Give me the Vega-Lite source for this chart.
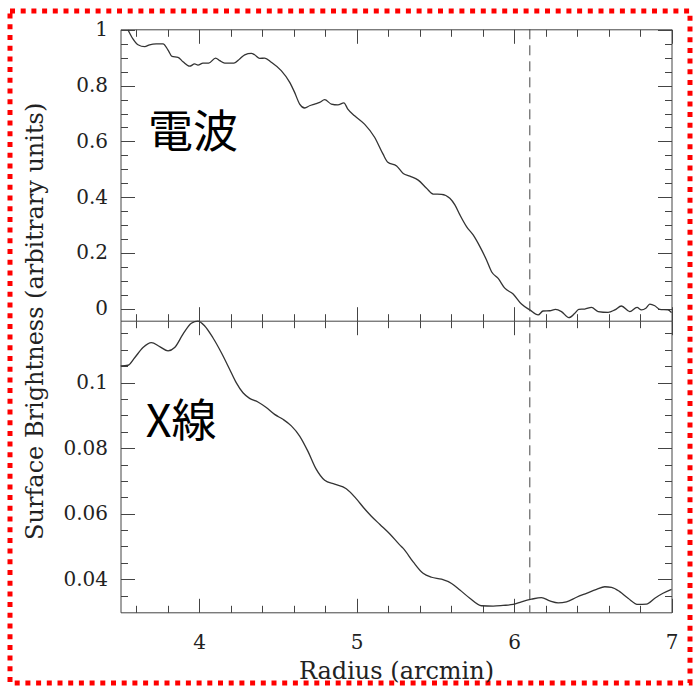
{
  "$schema": "https://vega.github.io/schema/vega-lite/v6.json",
  "width": 680,
  "height": 672,
  "autosize": {"type": "none"},
  "padding": {"left": 10, "top": 11, "right": 3, "bottom": 4},
  "background": "white",
  "view": {"stroke": "#ff0000", "strokeWidth": 5, "strokeDash": [5, 5.7], "fill": "white"},
  "config": {
    "axis": {
      "grid": false,
      "domainColor": "#444",
      "domainWidth": 1,
      "tickColor": "#444",
      "tickWidth": 1,
      "labelFont": "DejaVu Serif",
      "labelFontSize": 20,
      "labelColor": "#222",
      "labelOverlap": false,
      "labelFlush": false,
      "labelBound": false,
      "titleFont": "DejaVu Serif",
      "titleFontSize": 24,
      "titleFontWeight": "normal",
      "titleColor": "#222"
    }
  },
  "datasets": {
    "radio": [
      {"r": 3.548, "v": 1.0}, {"r": 3.579, "v": 0.968}, {"r": 3.611, "v": 0.947}, {"r": 3.654, "v": 0.940},
      {"r": 3.685, "v": 0.947}, {"r": 3.727, "v": 0.950}, {"r": 3.770, "v": 0.950}, {"r": 3.802, "v": 0.928},
      {"r": 3.827, "v": 0.905}, {"r": 3.865, "v": 0.902}, {"r": 3.897, "v": 0.886}, {"r": 3.939, "v": 0.870},
      {"r": 3.971, "v": 0.878}, {"r": 3.992, "v": 0.874}, {"r": 4.024, "v": 0.881}, {"r": 4.060, "v": 0.881},
      {"r": 4.104, "v": 0.899}, {"r": 4.130, "v": 0.890}, {"r": 4.162, "v": 0.881}, {"r": 4.221, "v": 0.881},
      {"r": 4.257, "v": 0.896}, {"r": 4.289, "v": 0.911}, {"r": 4.331, "v": 0.916}, {"r": 4.352, "v": 0.911},
      {"r": 4.384, "v": 0.898}, {"r": 4.416, "v": 0.899}, {"r": 4.458, "v": 0.884}, {"r": 4.521, "v": 0.854},
      {"r": 4.575, "v": 0.812}, {"r": 4.606, "v": 0.776}, {"r": 4.638, "v": 0.734}, {"r": 4.670, "v": 0.720},
      {"r": 4.701, "v": 0.728}, {"r": 4.733, "v": 0.734}, {"r": 4.765, "v": 0.740}, {"r": 4.797, "v": 0.750},
      {"r": 4.839, "v": 0.734}, {"r": 4.881, "v": 0.731}, {"r": 4.919, "v": 0.738}, {"r": 4.944, "v": 0.716},
      {"r": 4.987, "v": 0.692}, {"r": 5.050, "v": 0.662}, {"r": 5.114, "v": 0.615}, {"r": 5.167, "v": 0.555},
      {"r": 5.198, "v": 0.525}, {"r": 5.254, "v": 0.512}, {"r": 5.296, "v": 0.485}, {"r": 5.338, "v": 0.475},
      {"r": 5.391, "v": 0.461}, {"r": 5.444, "v": 0.432}, {"r": 5.486, "v": 0.411}, {"r": 5.539, "v": 0.410},
      {"r": 5.592, "v": 0.396}, {"r": 5.624, "v": 0.372}, {"r": 5.656, "v": 0.336}, {"r": 5.698, "v": 0.294},
      {"r": 5.740, "v": 0.264}, {"r": 5.783, "v": 0.222}, {"r": 5.825, "v": 0.174}, {"r": 5.857, "v": 0.132},
      {"r": 5.899, "v": 0.108}, {"r": 5.941, "v": 0.073}, {"r": 5.994, "v": 0.052}, {"r": 6.047, "v": 0.016},
      {"r": 6.100, "v": -0.005}, {"r": 6.153, "v": -0.023}, {"r": 6.184, "v": -0.009}, {"r": 6.227, "v": -0.008},
      {"r": 6.263, "v": -0.003}, {"r": 6.301, "v": -0.011}, {"r": 6.348, "v": -0.033}, {"r": 6.386, "v": -0.017},
      {"r": 6.411, "v": -0.003}, {"r": 6.449, "v": -0.002}, {"r": 6.492, "v": 0.004}, {"r": 6.534, "v": -0.011},
      {"r": 6.597, "v": -0.014}, {"r": 6.640, "v": -0.005}, {"r": 6.682, "v": 0.009}, {"r": 6.735, "v": -0.011},
      {"r": 6.781, "v": 0.004}, {"r": 6.809, "v": -0.005}, {"r": 6.837, "v": 0.001}, {"r": 6.862, "v": 0.016},
      {"r": 6.894, "v": 0.010}, {"r": 6.925, "v": -0.003}, {"r": 6.978, "v": -0.005}, {"r": 7.0, "v": -0.015}
    ],
    "xray": [
      {"r": 3.501, "v": 0.1051}, {"r": 3.548, "v": 0.1053}, {"r": 3.590, "v": 0.1076}, {"r": 3.643, "v": 0.1107},
      {"r": 3.696, "v": 0.1122}, {"r": 3.749, "v": 0.1110}, {"r": 3.802, "v": 0.1097}, {"r": 3.844, "v": 0.1107},
      {"r": 3.897, "v": 0.1148}, {"r": 3.950, "v": 0.1181}, {"r": 3.992, "v": 0.1188}, {"r": 4.035, "v": 0.1173},
      {"r": 4.087, "v": 0.1137}, {"r": 4.140, "v": 0.1092}, {"r": 4.193, "v": 0.1041}, {"r": 4.235, "v": 0.1000},
      {"r": 4.278, "v": 0.0969}, {"r": 4.320, "v": 0.0952}, {"r": 4.373, "v": 0.0941}, {"r": 4.426, "v": 0.0924},
      {"r": 4.479, "v": 0.0903}, {"r": 4.532, "v": 0.0888}, {"r": 4.585, "v": 0.0868}, {"r": 4.638, "v": 0.0837},
      {"r": 4.690, "v": 0.0791}, {"r": 4.743, "v": 0.0736}, {"r": 4.797, "v": 0.0702}, {"r": 4.860, "v": 0.0690},
      {"r": 4.934, "v": 0.0676}, {"r": 4.997, "v": 0.0646}, {"r": 5.050, "v": 0.0615}, {"r": 5.092, "v": 0.0593},
      {"r": 5.148, "v": 0.0567}, {"r": 5.211, "v": 0.0538}, {"r": 5.275, "v": 0.0504}, {"r": 5.296, "v": 0.0494},
      {"r": 5.359, "v": 0.0453}, {"r": 5.422, "v": 0.0418}, {"r": 5.476, "v": 0.0406}, {"r": 5.539, "v": 0.0400},
      {"r": 5.603, "v": 0.0387}, {"r": 5.656, "v": 0.0367}, {"r": 5.719, "v": 0.0342}, {"r": 5.793, "v": 0.0319},
      {"r": 5.867, "v": 0.0318}, {"r": 5.930, "v": 0.0320}, {"r": 5.994, "v": 0.0323}, {"r": 6.047, "v": 0.0331},
      {"r": 6.111, "v": 0.0339}, {"r": 6.174, "v": 0.0344}, {"r": 6.227, "v": 0.0334}, {"r": 6.280, "v": 0.0328},
      {"r": 6.333, "v": 0.0331}, {"r": 6.397, "v": 0.0345}, {"r": 6.460, "v": 0.0357}, {"r": 6.524, "v": 0.0369},
      {"r": 6.576, "v": 0.0377}, {"r": 6.619, "v": 0.0375}, {"r": 6.671, "v": 0.0362}, {"r": 6.724, "v": 0.0342},
      {"r": 6.788, "v": 0.0323}, {"r": 6.841, "v": 0.0324}, {"r": 6.894, "v": 0.0342}, {"r": 6.946, "v": 0.0357},
      {"r": 7.0, "v": 0.0369}
    ],
    "labels": [
      {"r": 3.675, "v": 0.628, "label": "電波", "panel": "radio"},
      {"r": 3.66, "v": 0.0876, "label": "X線", "panel": "xray"}
    ],
    "boundary": [{"r": 6.1, "lo": 0, "hi": 1}]
  },
  "resolve": {
    "scale": {"x": "independent", "y": "independent"},
    "axis": {"x": "independent", "y": "independent"}
  },
  "layer": [
    {
      "data": {"name": "radio"},
      "mark": {"type": "line", "color": "#333", "strokeWidth": 1.3, "interpolate": "monotone"},
      "encoding": {
        "x": {
          "field": "r", "type": "quantitative",
          "scale": {"domain": [3.5, 7], "range": [110.5, 661.5], "nice": false, "zero": false},
          "axis": {
            "orient": "top", "offset": -18.3, "title": null, "labels": false,
            "values": [3.6, 3.8, 4, 4.2, 4.4, 4.6, 4.8, 5, 5.2, 5.4, 5.6, 5.8, 6, 6.2, 6.4, 6.6, 6.8, 7],
            "tickSize": {"condition": {"test": "abs(datum.value-round(datum.value))<0.001", "value": -14}, "value": -7}
          }
        },
        "y": {
          "field": "v", "type": "quantitative",
          "scale": {"domain": [-0.0438, 1.0025], "range": [309.7, 18.3], "nice": false, "zero": false},
          "axis": {
            "orient": "left", "offset": -110.5, "title": null, "labelPadding": 27,
            "values": [0, 0.05, 0.1, 0.15, 0.2, 0.25, 0.3, 0.35, 0.4, 0.45, 0.5, 0.55, 0.6, 0.65, 0.7, 0.75, 0.8, 0.85, 0.9, 0.95, 1],
            "labelExpr": "abs(datum.value*5-round(datum.value*5))<0.001 ? format(datum.value, '~g') : ''",
            "tickSize": {"condition": {"test": "abs(datum.value*5-round(datum.value*5))<0.001", "value": -14}, "value": -7}
          }
        }
      }
    },
    {
      "data": {"name": "xray"},
      "mark": {"type": "line", "color": "#333", "strokeWidth": 1.3, "interpolate": "monotone"},
      "encoding": {
        "x": {
          "field": "r", "type": "quantitative",
          "scale": {"domain": [3.5, 7], "range": [110.5, 661.5], "nice": false, "zero": false},
          "axis": {
            "orient": "bottom", "offset": -70.7, "title": "Radius (arcmin)",
            "titlePadding": 7, "minExtent": 40, "maxExtent": 40, "labelPadding": 34,
            "values": [3.6, 3.8, 4, 4.2, 4.4, 4.6, 4.8, 5, 5.2, 5.4, 5.6, 5.8, 6, 6.2, 6.4, 6.6, 6.8, 7],
            "labelExpr": "abs(datum.value-round(datum.value))<0.001 ? format(datum.value, '~g') : ''",
            "tickSize": {"condition": {"test": "abs(datum.value-round(datum.value))<0.001", "value": -14}, "value": -7}
          }
        },
        "y": {
          "field": "v", "type": "quantitative",
          "scale": {"domain": [0.0299, 0.1189], "range": [601.3, 309.7], "nice": false, "zero": false},
          "axis": {
            "orient": "left", "offset": -110.5, "title": null, "labelPadding": 27,
            "values": [0.035, 0.04, 0.045, 0.05, 0.055, 0.06, 0.065, 0.07, 0.075, 0.08, 0.085, 0.09, 0.095, 0.1, 0.105, 0.11, 0.115],
            "labelExpr": "abs(datum.value*50-round(datum.value*50))<0.001 ? format(datum.value, '~g') : ''",
            "tickSize": {"condition": {"test": "abs(datum.value*50-round(datum.value*50))<0.001", "value": -14}, "value": -7}
          }
        }
      }
    },
    {
      "data": {"name": "labels"},
      "transform": [{"filter": "datum.panel === 'radio'"}],
      "mark": {"type": "text", "font": "Noto Sans CJK JP", "fontSize": 45, "align": "left", "baseline": "middle", "color": "#000"},
      "encoding": {
        "text": {"field": "label"},
        "x": {
          "field": "r", "type": "quantitative",
          "scale": {"domain": [3.5, 7], "range": [110.5, 661.5], "nice": false, "zero": false},
          "axis": {
            "orient": "top", "offset": -309.7, "title": null, "labels": false,
            "values": [3.6, 3.8, 4, 4.2, 4.4, 4.6, 4.8, 5, 5.2, 5.4, 5.6, 5.8, 6, 6.2, 6.4, 6.6, 6.8, 7],
            "tickSize": {"condition": {"test": "abs(datum.value-round(datum.value))<0.001", "value": 14}, "value": 7}
          }
        },
        "y": {
          "field": "v", "type": "quantitative",
          "scale": {"domain": [-0.0438, 1.0025], "range": [309.7, 18.3], "nice": false, "zero": false},
          "axis": {
            "orient": "right", "offset": -18.5, "title": null, "labels": false,
            "values": [0, 0.05, 0.1, 0.15, 0.2, 0.25, 0.3, 0.35, 0.4, 0.45, 0.5, 0.55, 0.6, 0.65, 0.7, 0.75, 0.8, 0.85, 0.9, 0.95, 1],
            "tickSize": {"condition": {"test": "abs(datum.value*5-round(datum.value*5))<0.001", "value": -14}, "value": -7}
          }
        }
      }
    },
    {
      "data": {"name": "labels"},
      "transform": [{"filter": "datum.panel === 'xray'"}],
      "mark": {"type": "text", "font": "Noto Sans CJK JP", "fontSize": 45, "align": "left", "baseline": "middle", "color": "#000"},
      "encoding": {
        "text": {"field": "label"},
        "x": {
          "field": "r", "type": "quantitative",
          "scale": {"domain": [3.5, 7], "range": [110.5, 661.5], "nice": false, "zero": false},
          "axis": {
            "orient": "top", "offset": -309.7, "title": null, "labels": false, "domain": false,
            "values": [3.6, 3.8, 4, 4.2, 4.4, 4.6, 4.8, 5, 5.2, 5.4, 5.6, 5.8, 6, 6.2, 6.4, 6.6, 6.8, 7],
            "tickSize": {"condition": {"test": "abs(datum.value-round(datum.value))<0.001", "value": -14}, "value": -7}
          }
        },
        "y": {
          "field": "v", "type": "quantitative",
          "scale": {"domain": [0.0299, 0.1189], "range": [601.3, 309.7], "nice": false, "zero": false},
          "axis": {
            "orient": "right", "offset": -18.5, "title": null, "labels": false,
            "values": [0.035, 0.04, 0.045, 0.05, 0.055, 0.06, 0.065, 0.07, 0.075, 0.08, 0.085, 0.09, 0.095, 0.1, 0.105, 0.11, 0.115],
            "tickSize": {"condition": {"test": "abs(datum.value*50-round(datum.value*50))<0.001", "value": -14}, "value": -7}
          }
        }
      }
    },
    {
      "data": {"name": "boundary"},
      "mark": {"type": "rule", "color": "#444", "strokeWidth": 1, "strokeDash": [10, 6]},
      "encoding": {
        "x": {
          "field": "r", "type": "quantitative",
          "scale": {"domain": [3.5, 7], "range": [110.5, 661.5], "nice": false, "zero": false},
          "axis": null
        },
        "y": {
          "field": "hi", "type": "quantitative",
          "scale": {"domain": [0, 1], "range": [601.3, 18.3], "nice": false, "zero": false},
          "axis": {
            "orient": "left", "offset": -110.5, "title": "Surface Brightness (arbitrary units)",
            "labels": false, "ticks": false, "domain": false,
            "titlePadding": 73, "minExtent": 0, "maxExtent": 0
          }
        },
        "y2": {"field": "lo"}
      }
    }
  ]
}
